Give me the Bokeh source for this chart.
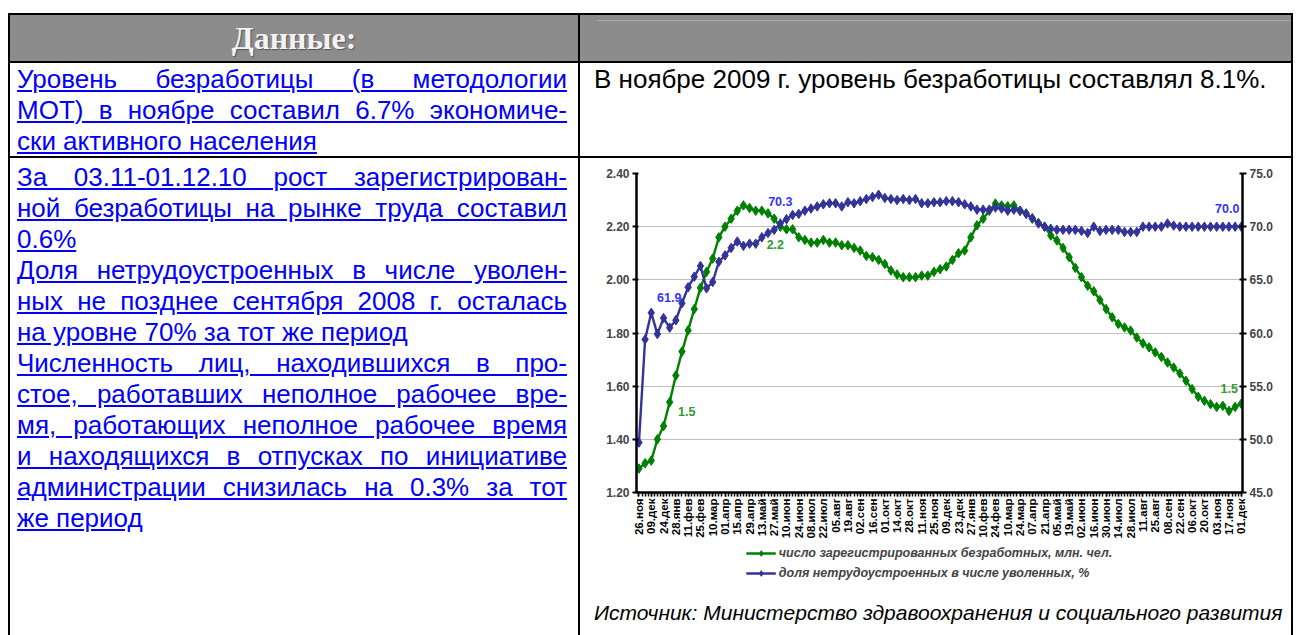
import math
from bokeh.plotting import figure
from bokeh.models import (Range1d, LinearAxis, FixedTicker, NumeralTickFormatter,
                          Legend, LegendItem, Div)
from bokeh.layouts import row, column
from bokeh.embed import file_html
from bokeh.resources import INLINE
from bokeh.core.properties import value

# ---------------- data ----------------
date_labels = ["26.ноя", "09.дек", "24.дек", "28.янв", "11.фев", "25.фев", "10.мар", "01.апр",
               "15.апр", "29.апр", "13.май", "27.май", "10.июн", "24.июн", "08.июл", "22.июл",
               "05.авг", "19.авг", "02.сен", "16.сен", "01.окт", "14.окт", "28.окт", "11.ноя",
               "25.ноя", "09.дек", "23.дек", "27.янв", "10.фев", "24.фев", "10.мар", "24.мар",
               "07.апр", "21.апр", "05.май", "19.май", "02.июн", "16.июн", "30.июн", "14.июл",
               "28.июл", "11.авг", "25.авг", "08.сен", "22.сен", "06.окт", "20.окт", "03.ноя",
               "17.ноя", "01.дек"]

# число зарегистрированных безработных, млн. чел. (left axis)
unemployed = [1.29, 1.31, 1.32, 1.40, 1.45, 1.54, 1.64, 1.73, 1.81, 1.89,
              1.97, 2.03, 2.08, 2.16, 2.20, 2.23, 2.26, 2.28, 2.27, 2.26,
              2.26, 2.25, 2.23, 2.20, 2.19, 2.19, 2.16, 2.15, 2.14, 2.14,
              2.15, 2.14, 2.14, 2.13, 2.13, 2.12, 2.11, 2.09, 2.085, 2.075,
              2.06, 2.035, 2.02, 2.01, 2.01, 2.01, 2.016, 2.016, 2.03, 2.04,
              2.05, 2.075, 2.10, 2.11, 2.16, 2.205, 2.23, 2.26, 2.287, 2.28,
              2.277, 2.28, 2.26, 2.25, 2.23, 2.214, 2.20, 2.167, 2.148, 2.12,
              2.085, 2.045, 2.01, 1.978, 1.957, 1.924, 1.89, 1.859, 1.834, 1.821,
              1.809, 1.783, 1.761, 1.746, 1.727, 1.71, 1.689, 1.67, 1.648, 1.62,
              1.589, 1.56, 1.545, 1.532, 1.522, 1.526, 1.507, 1.522, 1.534]

# доля нетрудоустроенных в числе уволенных, % (right axis)
share_idle = [49.7, 59.4, 61.9, 59.9, 61.4, 60.5, 61.2, 62.8, 64.3, 65.3,
              66.3, 64.2, 64.8, 66.7, 67.3, 68.0, 68.6, 68.2, 68.4, 68.4,
              69.0, 69.4, 69.7, 70.3, 70.7, 71.1, 71.2, 71.5, 71.7, 71.9,
              72.1, 72.2, 72.2, 71.9, 72.3, 72.2, 72.4, 72.6, 72.8, 73.0,
              72.7, 72.6, 72.5, 72.6, 72.5, 72.6, 72.2, 72.2, 72.3, 72.3,
              72.4, 72.4, 72.3, 72.1, 71.9, 71.6, 71.6, 71.6, 71.8, 71.7,
              71.5, 71.6, 71.5, 71.2, 70.8, 70.3, 70.0, 69.8, 69.7, 69.7,
              69.7, 69.7, 69.6, 69.4, 70.0, 69.6, 69.7, 69.7, 69.7, 69.5,
              69.5, 69.5, 70.0, 70.0, 70.0, 70.0, 70.3, 70.1, 70.0, 70.0,
              70.0, 70.0, 70.0, 70.0, 70.0, 70.0, 70.0, 70.0, 70.0]

left_ticks = [1.20, 1.40, 1.60, 1.80, 2.00, 2.20, 2.40]
right_ticks = [45.0, 50.0, 55.0, 60.0, 65.0, 70.0, 75.0]

green_label_idx = [5, 23, 98]
blue_label_idx = [2, 23, 98]

series_names = ["число зарегистрированных безработных, млн. чел.",
                "доля нетрудоустроенных в числе уволенных, %"]

GREEN = "#008000"
BLUE = "#333399"
FONT = "Liberation Sans"

n = len(unemployed)
xs = list(range(n))

# ---------------- chart ----------------
p = figure(frame_width=606, frame_height=319, output_backend="svg", toolbar_location=None,
           x_range=Range1d(-0.4, 98.2), y_range=Range1d(1.2, 2.4),
           min_border_left=56, min_border_right=49, min_border_top=15, min_border_bottom=50,
           outline_line_color=None, background_fill_color="white", border_fill_color="white",
           margin=0)
p.extra_y_ranges = {"right": Range1d(45, 75)}

p.xgrid.visible = False
p.ygrid.grid_line_color = "#c0c0c0"
p.ygrid.grid_line_width = 1
p.ygrid.ticker = FixedTicker(ticks=left_ticks)

major = list(range(0, n, 2))
minor = [k * 0.5 for k in range(0, 2 * n - 1)]
xa = p.xaxis[0]
xa.ticker = FixedTicker(ticks=major, minor_ticks=minor)
xa.major_label_overrides = {i: lab for i, lab in zip(major, date_labels)}
xa.major_label_orientation = math.pi / 2
xa.major_label_text_font = FONT
xa.major_label_text_font_style = "bold"
xa.major_label_text_font_size = "11.5px"
xa.major_label_text_color = "black"
xa.major_label_standoff = 2
xa.axis_line_width = 2.5
xa.axis_line_color = "black"
xa.major_tick_in = 0
xa.major_tick_out = 4
xa.minor_tick_in = 0
xa.minor_tick_out = 4
xa.major_tick_line_width = 1.5
xa.minor_tick_line_width = 1.5

ya = p.yaxis[0]
ya.ticker = FixedTicker(ticks=left_ticks)
ya.formatter = NumeralTickFormatter(format="0.00")
ya.major_label_text_font = FONT
ya.major_label_text_font_style = "bold"
ya.major_label_text_font_size = "12px"
ya.major_label_standoff = 3
ya.axis_line_width = 2.5
ya.major_tick_in = 2
ya.major_tick_out = 4
ya.major_tick_line_width = 2
ya.minor_tick_line_color = None

ra = LinearAxis(y_range_name="right", ticker=FixedTicker(ticks=right_ticks),
                formatter=NumeralTickFormatter(format="0.0"))
ra.major_label_text_font = FONT
ra.major_label_text_font_style = "bold"
ra.major_label_text_font_size = "12px"
ra.major_label_standoff = 3
ra.axis_line_width = 2.5
ra.major_tick_in = 3
ra.major_tick_out = 4
ra.major_tick_line_width = 2
ra.minor_tick_line_color = None
p.add_layout(ra, "right")

p.line(xs, unemployed, line_color=GREEN, line_width=2.4)
p.scatter(xs, unemployed, marker="diamond", size=9.5, fill_color=GREEN, line_color=GREEN)
p.line(xs, share_idle, line_color=BLUE, line_width=2.4, y_range_name="right")
p.scatter(xs, share_idle, marker="diamond", size=9.5, fill_color=BLUE, line_color=BLUE,
          y_range_name="right")

# data labels
g_off = {5: (17, 9), 23: (-5, 18), 98: (-12, -15)}
b_off = {2: (18, -15), 23: (0, -22), 98: (-14, -18)}
for i in green_label_idx:
    p.text(x=[i], y=[unemployed[i]], text=["%.1f" % unemployed[i]],
           x_offset=g_off[i][0], y_offset=g_off[i][1],
           text_align="center", text_baseline="middle", text_color="#339933",
           text_font=value(FONT), text_font_style="bold", text_font_size="12.5px")
for i in blue_label_idx:
    p.text(x=[i], y=[share_idle[i]], text=["%.1f" % share_idle[i]],
           x_offset=b_off[i][0], y_offset=b_off[i][1], y_range_name="right",
           text_align="center", text_baseline="middle", text_color="#3333ff",
           text_font=value(FONT), text_font_style="bold", text_font_size="12.5px")

# ---------------- legend (own small figure below the chart) ----------------
# the same series are drawn here but fall outside this figure's ranges; only the legend shows
lp = figure(width=691, height=48, output_backend="svg", toolbar_location=None,
            x_axis_type=None, y_axis_type=None, x_range=Range1d(0, 1), y_range=Range1d(0, 1),
            min_border=0, outline_line_color=None,
            background_fill_color="white", border_fill_color="white", margin=0)
lg_l = lp.line(xs, unemployed, line_color=GREEN, line_width=2.4)
lg_s = lp.scatter(xs, unemployed, marker="diamond", size=9.5, fill_color=GREEN, line_color=GREEN)
lb_l = lp.line(xs, share_idle, line_color=BLUE, line_width=2.4)
lb_s = lp.scatter(xs, share_idle, marker="diamond", size=9.5, fill_color=BLUE, line_color=BLUE)
legend = Legend(items=[LegendItem(label=series_names[0], renderers=[lg_l, lg_s]),
                       LegendItem(label=series_names[1], renderers=[lb_l, lb_s])],
                location="top_center", orientation="vertical",
                border_line_color=None, background_fill_alpha=0,
                margin=4, padding=2, spacing=6, glyph_width=30, glyph_height=14,
                label_height=14, label_standoff=3,
                label_text_font=FONT, label_text_font_size="12.5px",
                label_text_font_style="bold italic")
lp.add_layout(legend, "center")

# ---------------- table (HTML) ----------------
def bar(left, top, w, h, color="#000"):
    return (f'<div style="position:absolute;left:{left}px;top:{top}px;width:{w}px;'
            f'height:{h}px;background:{color}"></div>')


def tline(text, top, justify=True, left=17, width=550):
    align = "text-align:justify;text-align-last:justify;" if justify else "text-align:left;"
    return (f'<div style="position:absolute;left:{left}px;top:{top}px;width:{width}px;'
            f'height:31px;line-height:31px;font-size:26px;color:#0000ff;'
            f'text-decoration:underline;{align}">{text}</div>')


row1_lines = [("Уровень безработицы (в методологии", True),
              ("МОТ) в ноябре составил 6.7% экономиче-", True),
              ("ски активного населения", False)]
row2_lines = [("За 03.11-01.12.10 рост зарегистрирован-", True),
              ("ной безработицы на рынке труда составил", True),
              ("0.6%", False),
              ("Доля нетрудоустроенных в числе уволен-", True),
              ("ных не позднее сентября 2008 г. осталась", True),
              ("на уровне 70% за тот же период", False),
              ("Численность лиц, находившихся в про-", True),
              ("стое, работавших неполное рабочее вре-", True),
              ("мя, работающих неполное рабочее время", True),
              ("и находящихся в отпусках по инициативе", True),
              ("администрации снизилась на 0.3% за тот", True),
              ("же период", False)]

left_html = ['<div style="position:relative;width:580px;height:635px;overflow:hidden;'
             f'font-family:\'{FONT}\',Arial,sans-serif;background:white">']
left_html.append(bar(8, 15, 572, 46, "#8c8c8c"))
left_html.append(bar(8, 13, 572, 2))
left_html.append(bar(8, 61, 572, 2))
left_html.append(bar(8, 156, 572, 2))
left_html.append(bar(8, 13, 2, 622))
left_html.append(bar(578, 13, 2, 622))
left_html.append('<div style="position:absolute;left:10px;top:15px;width:568px;height:46px;'
                 'line-height:46px;text-align:center;font-family:\'Liberation Serif\',serif;'
                 'font-weight:bold;font-size:32px;color:#f2f2f2;'
                 'text-shadow:1px 1px 1px #555">Данные:</div>')
for k, (t, j) in enumerate(row1_lines):
    left_html.append(tline(t, 63.5 + 31 * k, j))
for k, (t, j) in enumerate(row2_lines):
    left_html.append(tline(t, 161.5 + 31 * k, j))
left_html.append('</div>')
left_div = Div(text="".join(left_html), width=580, height=635, margin=0)

top_html = ['<div style="position:relative;width:711px;height:158px;overflow:hidden;'
            f'font-family:\'{FONT}\',Arial,sans-serif;background:white">']
top_html.append(bar(0, 15, 711, 46, "#8c8c8c"))
top_html.append(bar(17, 20, 694, 1, "#a8a8a8"))
top_html.append(bar(0, 13, 711, 2))
top_html.append(bar(0, 61, 711, 2))
top_html.append(bar(0, 156, 711, 2))
top_html.append('<div style="position:absolute;left:14px;top:63.5px;height:31px;line-height:31px;'
                'font-size:26px;color:black;white-space:nowrap">'
                'В ноябре 2009 г. уровень безработицы составлял 8.1%.</div>')
top_html.append('</div>')
top_div = Div(text="".join(top_html), width=711, height=158, margin=0)

src_div = Div(text=('<div style="position:relative;width:711px;height:45px;overflow:hidden;background:white">'
                    '<div style="position:absolute;left:14px;top:0;height:45px;line-height:45px;'
                    f'font-family:\'{FONT}\',Arial,sans-serif;font-style:italic;font-size:21px;'
                    'color:black;white-space:nowrap">'
                    'Источник: Министерство здравоохранения и социального развития</div></div>'),
              width=711, height=45, margin=0)

border_div = Div(text=('<div style="position:relative;width:2px;height:635px">'
                       + bar(0, 13, 2, 622) + '</div>'), width=2, height=635, margin=0)

layout = row(left_div, column(top_div, p, lp, src_div, spacing=0), border_div, spacing=0)

open("out.html", "w").write(file_html(layout, INLINE))
